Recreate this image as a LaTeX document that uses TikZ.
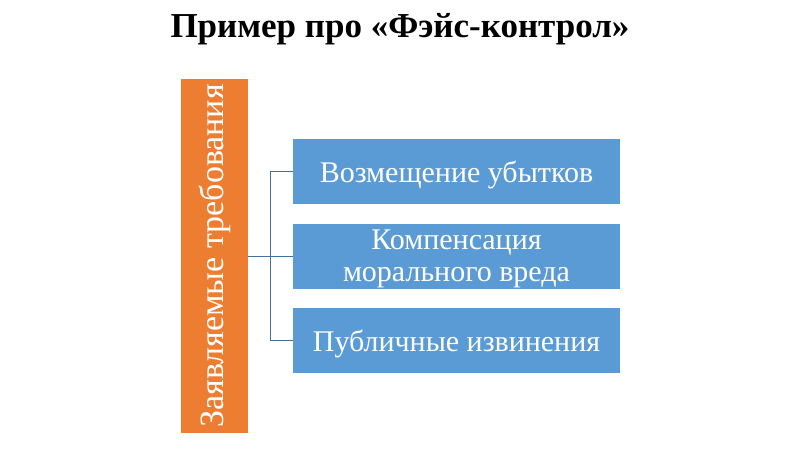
\documentclass[tikz,border=0pt]{standalone}
\usepackage{fontspec}
\setmainfont{Liberation Serif}
\definecolor{orng}{HTML}{ED7D31}
\definecolor{blu}{HTML}{5B9BD5}
\definecolor{lin}{HTML}{41719C}
\newcommand{\dn}[1]{\raisebox{-3pt}[\height][\depth]{#1}}
\begin{document}
\begin{tikzpicture}[x=1pt,y=-1pt,
  bbox/.style={fill=blu,draw=none,minimum width=327pt,minimum height=65pt,inner sep=0pt,text=white,font=\fontsize{30}{32}\selectfont},
  conn/.style={draw=lin,line width=0.9pt}]
\useasboundingbox (0,0) rectangle (800,449);
\node[font=\bfseries\fontsize{35}{40}\selectfont] (title) at (400,29) {Пример про «Фэйс-контрол»};
\node[fill=orng,minimum width=354pt,minimum height=67pt,inner sep=0pt,rotate=90,text=white,font=\fontsize{34}{38}\selectfont] (main) at (214.5,256) {Заявляемые требования};
\node[bbox] (b1) at (456.5,171.5) {\dn{Возмещение убытков}};
\node[bbox] (b2) at (456.5,256) {\dn{\begin{tabular}{@{}c@{}}Компенсация\\морального вреда\end{tabular}}};
\node[bbox] (b3) at (456.5,340.5) {\dn{Публичные извинения}};
\coordinate (j) at (270,256);
\draw[conn] (main.south) -- (j);
\draw[conn] (b1.west) -| (j);
\draw[conn] (b3.west) -| (j);
\draw[conn] (j) -- (b2.west);
\end{tikzpicture}
\end{document}
